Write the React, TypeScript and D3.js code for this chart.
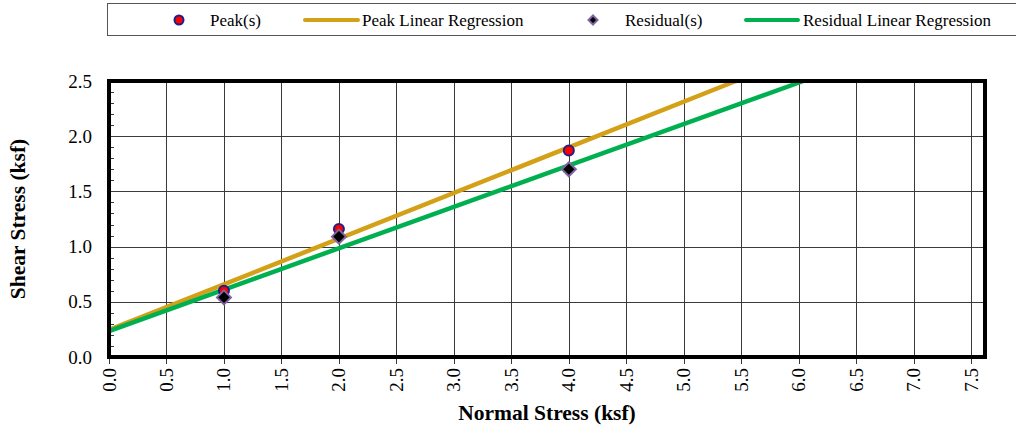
import React from "react";
import * as d3 from "d3";

// Direct shear test results
const normalStress = [1.0, 2.0, 4.0];
const peakShear = [0.6, 1.16, 1.87];
const residualShear = [0.54, 1.09, 1.7];

const xTicks = d3.range(0, 7.51, 0.5);
const yTicks = d3.range(0, 2.51, 0.5);
const yMinorTicks = d3.range(0, 2.501, 0.1);

const legendItems = ["Peak(s)", "Peak Linear Regression", "Residual(s)", "Residual Linear Regression"];

const W = 1016;
const H = 428;
const margin = { left: 109, right: 31, top: 81, bottom: 71 };
const FONT = "'Liberation Serif', 'Times New Roman', serif";

function linearFit(xs: number[], ys: number[]) {
  const mx = d3.mean(xs)!;
  const my = d3.mean(ys)!;
  let sxy = 0;
  let sxx = 0;
  xs.forEach((x, i) => {
    sxy += (x - mx) * (ys[i] - my);
    sxx += (x - mx) * (x - mx);
  });
  const slope = sxy / sxx;
  return { slope, intercept: my - slope * mx };
}

export default function App() {
  const x = d3.scaleLinear().domain([0, 7.62]).range([margin.left, W - margin.right]);
  const y = d3.scaleLinear().domain([0, 2.5]).range([H - margin.bottom, margin.top]);

  const peakFit = linearFit(normalStress, peakShear);
  const resFit = linearFit(normalStress, residualShear);

  const fitLine = (f: { slope: number; intercept: number }) => {
    const xEnd = Math.min(7.62, (2.5 - f.intercept) / f.slope);
    const line = d3
      .line<number>()
      .x((d) => x(d))
      .y((d) => y(f.intercept + f.slope * d));
    return line([0, xEnd]) || "";
  };

  const diamond = (cx: number, cy: number, r: number) =>
    `M${cx},${cy - r}L${cx + r},${cy}L${cx},${cy + r}L${cx - r},${cy}Z`;

  const x0 = x(0);
  const x1 = x(7.62);
  const y0 = y(0);
  const y1 = y(2.5);

  return (
    <svg width={W} height={H} style={{ position: "absolute", left: 0, top: 0, background: "#fff" }}>
      <rect x={0} y={0} width={W} height={H} fill="#fff" />
      {/* legend */}
      <g fontFamily={FONT} fontSize={17} fill="#000">
        <rect x={107.5} y={3.5} width={W} height={32} fill="#fff" stroke="#555" strokeWidth={1} />
        <circle cx={179} cy={20} r={4.5} fill="#ff0000" stroke="#1f1f8c" strokeWidth={2} />
        <text x={210} y={26}>{legendItems[0]}</text>
        <line x1={305} x2={358} y1={20} y2={20} stroke="#D4A017" strokeWidth={4} strokeLinecap="round" />
        <text x={362} y={26}>{legendItems[1]}</text>
        <path d={diamond(593, 20, 4.5)} fill="#000" stroke="#8064A2" strokeWidth={2} />
        <text x={625} y={26}>{legendItems[2]}</text>
        <line x1={746} x2={798} y1={20} y2={20} stroke="#00B050" strokeWidth={4} strokeLinecap="round" />
        <text x={803} y={26}>{legendItems[3]}</text>
      </g>

      {/* grid */}
      <g stroke="#3a3a3a" strokeWidth={1}>
        {xTicks.map((t) => (
          <line key={"gx" + t} x1={Math.round(x(t)) + 0.5} x2={Math.round(x(t)) + 0.5} y1={y1} y2={y0 + 7} />
        ))}
        {yTicks.map((t) => (
          <line key={"gy" + t} x1={x0} x2={x1} y1={Math.round(y(t)) + 0.5} y2={Math.round(y(t)) + 0.5} />
        ))}
        {yMinorTicks.map((t) => (
          <line key={"my" + t} x1={x0} x2={x0 + 5} y1={Math.round(y(t)) + 0.5} y2={Math.round(y(t)) + 0.5} />
        ))}
      </g>

      {/* regression lines */}
      <path d={fitLine(peakFit)} stroke="#D4A017" strokeWidth={4.5} fill="none" />
      <path d={fitLine(resFit)} stroke="#00B050" strokeWidth={4.5} fill="none" />

      {/* points */}
      {normalStress.map((n, i) => (
        <circle key={"p" + i} cx={x(n)} cy={y(peakShear[i])} r={5} fill="#ff0000" stroke="#1f1f8c" strokeWidth={2} />
      ))}
      {normalStress.map((n, i) => (
        <path key={"r" + i} d={diamond(x(n), y(residualShear[i]), 7)} fill="#000" stroke="#8064A2" strokeWidth={2} />
      ))}

      {/* frame */}
      <rect x={x0} y={y1} width={x1 - x0} height={y0 - y1} fill="none" stroke="#000" strokeWidth={4} />

      {/* tick labels */}
      <g fontFamily={FONT} fontSize={19} fill="#000">
        {yTicks.map((t) => (
          <text key={"ly" + t} x={92} y={y(t) + 6.5} textAnchor="end">
            {t.toFixed(1)}
          </text>
        ))}
        {xTicks.map((t) => (
          <text
            key={"lx" + t}
            transform={`translate(${x(t) + 6.5},${y0 + 11}) rotate(-90)`}
            textAnchor="end"
          >
            {t.toFixed(1)}
          </text>
        ))}
      </g>

      {/* axis titles */}
      <text
        x={(x0 + x1) / 2}
        y={420}
        textAnchor="middle"
        fontFamily={FONT}
        fontWeight="bold"
        fontSize={21.5}
      >
        Normal Stress (ksf)
      </text>
      <text
        transform={`translate(25,${(y0 + y1) / 2}) rotate(-90)`}
        textAnchor="middle"
        fontFamily={FONT}
        fontWeight="bold"
        fontSize={21.5}
      >
        Shear Stress (ksf)
      </text>
    </svg>
  );
}
